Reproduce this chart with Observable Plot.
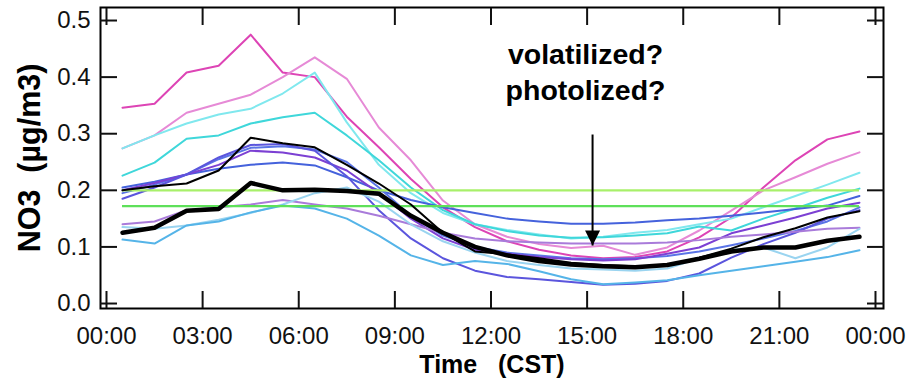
<!DOCTYPE html>
<html><head><meta charset="utf-8">
<script src="https://cdn.jsdelivr.net/npm/d3@7"></script>
<script src="https://cdn.jsdelivr.net/npm/@observablehq/plot@0.6"></script>
<style>body{margin:0;background:#fff}#chart{width:920px;height:378px}</style>
</head><body><div id="chart"></div>
<script>
// ---- data ----
const hours = [0.5,1.5,2.5,3.5,4.5,5.5,6.5,7.5,8.5,9.5,10.5,11.5,12.5,13.5,14.5,15.5,16.5,17.5,18.5,19.5,20.5,21.5,22.5,23.5];
const magenta   = [0.346,0.353,0.408,0.420,0.475,0.408,0.400,0.330,0.276,0.220,0.170,0.135,0.110,0.095,0.085,0.080,0.082,0.092,0.117,0.152,0.205,0.253,0.290,0.304];
const pink      = [0.274,0.297,0.337,0.353,0.369,0.400,0.435,0.397,0.311,0.253,0.182,0.140,0.118,0.105,0.098,0.102,0.086,0.099,0.129,0.164,0.200,0.223,0.247,0.267];
const lightCyan = [0.274,0.297,0.318,0.334,0.344,0.371,0.408,0.320,0.245,0.195,0.160,0.140,0.130,0.122,0.115,0.118,0.125,0.130,0.140,0.150,0.170,0.190,0.210,0.231];
const turquoise = [0.226,0.249,0.291,0.297,0.318,0.329,0.337,0.297,0.253,0.205,0.165,0.140,0.128,0.120,0.116,0.117,0.120,0.124,0.136,0.129,0.150,0.168,0.187,0.203];
const royalBlue = [0.205,0.215,0.228,0.238,0.245,0.249,0.244,0.223,0.200,0.183,0.170,0.160,0.150,0.145,0.141,0.141,0.143,0.147,0.150,0.155,0.161,0.167,0.173,0.190];
const blue      = [0.195,0.210,0.228,0.255,0.275,0.278,0.272,0.250,0.205,0.155,0.120,0.100,0.090,0.085,0.080,0.078,0.080,0.084,0.092,0.103,0.115,0.128,0.145,0.170];
const purple    = [0.200,0.213,0.228,0.245,0.270,0.267,0.258,0.235,0.195,0.150,0.115,0.095,0.088,0.082,0.078,0.076,0.078,0.088,0.099,0.124,0.138,0.152,0.168,0.178];
const slate     = [0.185,0.205,0.228,0.258,0.280,0.282,0.270,0.225,0.165,0.115,0.080,0.058,0.047,0.043,0.038,0.033,0.035,0.040,0.053,0.081,0.105,0.125,0.150,0.165];
const lavender  = [0.140,0.145,0.165,0.170,0.175,0.183,0.175,0.168,0.155,0.140,0.125,0.115,0.110,0.108,0.106,0.106,0.106,0.108,0.112,0.118,0.122,0.127,0.132,0.134];
const paleBlue  = [0.135,0.132,0.138,0.148,0.160,0.175,0.195,0.205,0.180,0.140,0.110,0.090,0.075,0.068,0.062,0.060,0.058,0.062,0.080,0.095,0.099,0.080,0.099,0.132];
const skyBlue   = [0.113,0.106,0.138,0.145,0.161,0.173,0.168,0.150,0.120,0.085,0.068,0.075,0.070,0.057,0.043,0.034,0.037,0.041,0.050,0.058,0.066,0.074,0.082,0.094];
const blackThin = [0.200,0.207,0.212,0.235,0.293,0.283,0.276,0.245,0.212,0.175,0.125,0.092,0.087,0.080,0.072,0.068,0.066,0.067,0.081,0.097,0.117,0.133,0.152,0.163];
const blackThick= [0.125,0.134,0.164,0.167,0.213,0.200,0.201,0.199,0.194,0.155,0.125,0.100,0.085,0.075,0.069,0.066,0.064,0.068,0.079,0.092,0.099,0.099,0.111,0.118];
const refLevels = [0.200, 0.172];
const refSpan = [0.5, 23.5];
const xTicks = [0,3,6,9,12,15,18,21,24];
const xTickLabels = ["00:00","03:00","06:00","09:00","12:00","15:00","18:00","21:00","00:00"];
const yTicks = [0,0.1,0.2,0.3,0.4,0.5];
const yTickLabels = ["0.0","0.1","0.2","0.3","0.4","0.5"];
const annotText = ["volatilized?","photolized?"];
const annotX = [14.95, 14.95];
const annotY = [0.4400, 0.3765];
const arrowX = 15.17, arrowTop = 0.2986, arrowTip = 0.1025;
const xLabel = "Time   (CST)";
const yLabel = "NO3  (µg/m3)";

// ---- styles ----
const colored = [
  [magenta,"#dd44b5"],[pink,"#e68ad6"],[lightCyan,"#80e8ee"],[turquoise,"#3fd7da"],
  [royalBlue,"#4562dc"],[blue,"#5a74e6"],[purple,"#7c40d3"],[slate,"#5b55dd"],
  [lavender,"#a97bda"],[paleBlue,"#9ad4f0"],[skyBlue,"#55b4e8"]
];
const refColors = ["#a8f06a","#5ee05a"];
const font = "'Liberation Sans', Arial, sans-serif";

const rows = vals => hours.map((h,i)=>({h, v: vals[i]}));
const downTri = {draw(ctx){ctx.moveTo(0,0);ctx.lineTo(-7.5,-15);ctx.lineTo(7.5,-15);ctx.closePath();}};

const marks = [];
colored.forEach(([vals,c]) => marks.push(Plot.line(rows(vals), {x:"h", y:"v", stroke:c, strokeWidth:2})));
refLevels.forEach((lv,i) => marks.push(Plot.ruleY([lv], {x1: refSpan[0], x2: refSpan[1], stroke: refColors[i], strokeWidth: 2.2})));
marks.push(Plot.line(rows(blackThin), {x:"h", y:"v", stroke:"#000", strokeWidth:2}));
marks.push(Plot.line(rows(blackThick), {x:"h", y:"v", stroke:"#000", strokeWidth:4.5}));
marks.push(Plot.link([0], {x1:()=>arrowX, x2:()=>arrowX, y1:()=>arrowTop, y2:()=>arrowTip, stroke:"#000", strokeWidth:2}));
marks.push(Plot.dot([0], {x:()=>arrowX, y:()=>arrowTip, symbol: downTri, r: 5, fill:"#000", stroke:"none"}));
marks.push(Plot.text(annotText, {x:(d,i)=>annotX[i], y:(d,i)=>annotY[i], text:d=>d, fontSize:28.5, fontWeight:"bold", fill:"#000", textAnchor:"middle", lineAnchor:"middle", style:"letter-spacing:2.1px"}));
marks.push(Plot.frame({stroke:"#000", strokeWidth:2}));
marks.push(Plot.axisX(xTicks, {anchor:"bottom", tickSize:-17, tickPadding:35, strokeWidth:2, fontSize:24, tickFormat:d=>xTickLabels[xTicks.indexOf(d)], label:null}));
marks.push(Plot.axisX(xTicks, {anchor:"top", tickSize:-17, strokeWidth:2, fill:"none", label:null}));
marks.push(Plot.axisY(yTicks, {anchor:"left", tickSize:-17, tickPadding:27, strokeWidth:2, fontSize:24, tickFormat:d=>yTickLabels[yTicks.indexOf(d)], label:null}));
marks.push(Plot.axisY(yTicks, {anchor:"right", tickSize:-17, strokeWidth:2, fill:"none", label:null}));
marks.push(Plot.text([xLabel], {frameAnchor:"bottom", dy:56, text:d=>d, fontSize:25, fontWeight:"bold", fill:"#000", textAnchor:"middle", lineAnchor:"middle", style:"white-space:pre"}));
marks.push(Plot.text([yLabel], {frameAnchor:"left", dx:-70, rotate:-90, text:d=>d, fontSize:30.5, fontWeight:"bold", fill:"#000", textAnchor:"middle", lineAnchor:"middle", style:"white-space:pre"}));

const chart = Plot.plot({
  width: 920, height: 378,
  marginLeft: 100, marginRight: 37, marginTop: 7, marginBottom: 70,
  x: {domain: [-0.187, 24.25]},
  y: {domain: [-0.0088, 0.523]},
  style: {fontFamily: font, fontSize: "23px", color: "#111", background: "#fff", overflow: "visible"},
  marks
});
document.getElementById("chart").appendChild(chart);
</script></body></html>
